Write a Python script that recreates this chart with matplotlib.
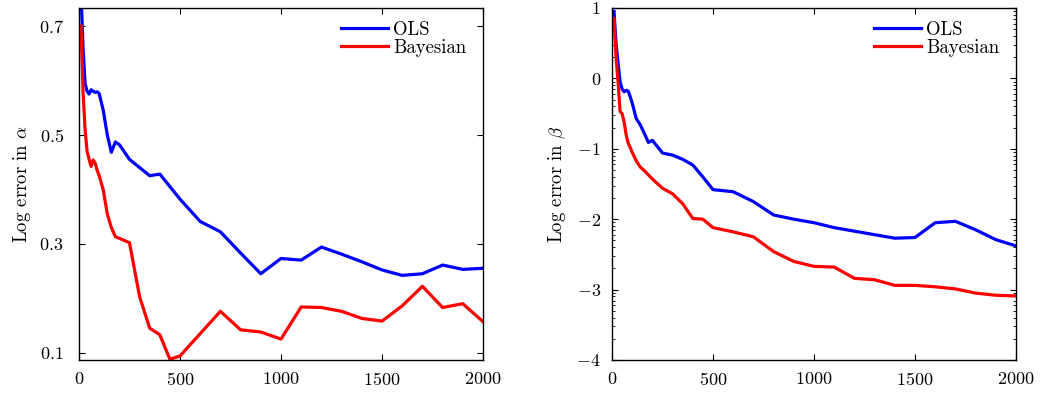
import numpy as np
import matplotlib
matplotlib.use("Agg")
import matplotlib.pyplot as plt
from matplotlib.ticker import FixedLocator

plt.rcParams['font.family'] = 'cmr10'
plt.rcParams['mathtext.fontset'] = 'cm'
plt.rcParams['axes.formatter.use_mathtext'] = True
plt.rcParams['font.size'] = 13

# sample sizes
n = [10, 20, 30, 40, 50, 60, 70, 80, 90, 100, 120, 140, 160, 180, 200,
     250, 300, 350, 400, 450, 500, 600, 700, 800, 900, 1000, 1100, 1200,
     1300, 1400, 1500, 1600, 1700, 1800, 1900, 2000]

# log error in alpha
alpha_ols = [0.76, 0.66, 0.595, 0.58, 0.575, 0.583, 0.58, 0.578, 0.579, 0.576,
             0.545, 0.50, 0.468, 0.487, 0.482, 0.455, 0.44, 0.425, 0.428, 0.405,
             0.382, 0.341, 0.322, 0.283, 0.245, 0.273, 0.270, 0.294, 0.281, 0.267,
             0.252, 0.242, 0.245, 0.261, 0.253, 0.255]
alpha_bayes = [0.70, 0.58, 0.51, 0.47, 0.455, 0.442, 0.454, 0.448, 0.435, 0.425,
               0.399, 0.355, 0.330, 0.313, 0.310, 0.302, 0.203, 0.145, 0.133, 0.088,
               0.094, 0.135, 0.176, 0.142, 0.138, 0.125, 0.184, 0.183, 0.176, 0.163,
               0.158, 0.186, 0.222, 0.183, 0.190, 0.157]

# log error in beta
beta_ols = [0.95, 0.50, 0.22, -0.05, -0.15, -0.19, -0.17, -0.18, -0.26, -0.35,
            -0.57, -0.66, -0.78, -0.91, -0.88, -1.06, -1.09, -1.15, -1.23, -1.40,
            -1.58, -1.61, -1.75, -1.94, -2.0, -2.05, -2.12, -2.17, -2.22, -2.27,
            -2.26, -2.05, -2.03, -2.15, -2.29, -2.38]
beta_bayes = [0.85, 0.30, -0.05, -0.47, -0.50, -0.62, -0.80, -0.92, -0.98, -1.05,
              -1.17, -1.26, -1.31, -1.37, -1.43, -1.56, -1.64, -1.78, -1.99, -2.00,
              -2.12, -2.18, -2.25, -2.46, -2.60, -2.67, -2.68, -2.84, -2.86, -2.94,
              -2.94, -2.96, -2.99, -3.05, -3.08, -3.09]

fig = plt.figure(figsize=(10.4, 3.94), dpi=100)
ax1 = fig.add_axes([79/1040, 1 - 360/394, 404/1040, 352/394])
ax2 = fig.add_axes([612/1040, 1 - 360/394, 404/1040, 352/394])

lw = 2.3
for ax, ols, bay in [(ax1, alpha_ols, alpha_bayes), (ax2, beta_ols, beta_bayes)]:
    ax.plot(n, ols, color='#0000ff', lw=lw, label='OLS')
    ax.plot(n, bay, color='#ff0000', lw=lw, label='Bayesian')
    ax.set_xlim(0, 2000)
    ax.set_xticks([0, 500, 1000, 1500, 2000])
    ax.tick_params(direction='in', top=True, right=True, length=4, width=0.8)
    ax.tick_params(axis='x', pad=8)
    ax.tick_params(which='minor', direction='in', top=False, right=True, length=2, width=0.6)
    for s in ax.spines.values():
        s.set_linewidth(1.0)
    ax.legend(loc='upper right', bbox_to_anchor=(0.978, 0.985), frameon=False,
              handlelength=2.5, borderpad=0.1, labelspacing=0.0, handletextpad=0.3,
              borderaxespad=0.3, fontsize=13.5)

ax1.set_ylim(0.0866, 0.733)
ax1.set_yticks([0.1, 0.3, 0.5, 0.7])
ax1.tick_params(axis='y', pad=11)
ax1.set_ylabel(r'Log error in $\alpha$', fontsize=13.5)
ax1.yaxis.set_label_coords(-0.115, 0.5)

ax2.set_ylim(-4, 1)
ax2.set_yticks([-4, -3, -2, -1, 0, 1])
minors = [d + np.log10(k) for d in range(-4, 1) for k in range(2, 10)]
ax2.yaxis.set_minor_locator(FixedLocator(minors))
ax2.tick_params(axis='y', pad=8)
ax2.set_ylabel(r'Log error in $\beta$', fontsize=13.5)
ax2.yaxis.set_label_coords(-0.11, 0.5)

fig.savefig('out.png', dpi=100)
